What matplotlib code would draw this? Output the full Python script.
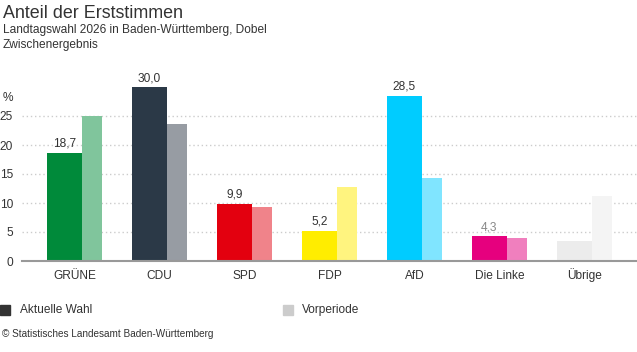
import matplotlib.pyplot as plt
from matplotlib.patches import Rectangle
import numpy as np

plt.rcParams['font.family'] = ['Liberation Sans', 'DejaVu Sans']

parties = ["GRÜNE", "CDU", "SPD", "FDP", "AfD", "Die Linke", "Übrige"]
current = [18.7, 30.0, 9.9, 5.2, 28.5, 4.3, 3.4]
previous = [25.0, 23.6, 9.3, 12.7, 14.3, 3.9, 11.2]
value_labels = ["18,7", "30,0", "9,9", "5,2", "28,5", "4,3", ""]
colors_cur = ["#008a3a", "#2b3947", "#e3000f", "#ffed00", "#00ccff", "#e6007e", "#ececec"]
colors_prev = ["#80c59c", "#979ca3", "#f0838a", "#fff47f", "#80e5ff", "#f07fbe", "#f4f4f4"]
label_colors = ["#333333"] * 5 + ["#888888", "#333333"]

W, H = 637, 352
fs = 8.6
fig = plt.figure(figsize=(W / 100, H / 100), dpi=100)
ax = fig.add_axes([22 / W, (H - 261) / H, 1 - 22 / W, 174 / H])

x = np.arange(len(parties))
ax.bar(x - 0.118, current, width=0.405, color=colors_cur, zorder=3)
ax.bar(x + 0.202, previous, width=0.235, color=colors_prev, zorder=2)

for xi, v, lab, c in zip(x, current, value_labels, label_colors):
    if lab:
        ax.text(xi - 0.118, v + 0.5, lab, ha='center', va='bottom', fontsize=fs,
                color=c, clip_on=False)

ax.set_xlim(-0.618, 6.618)
ax.set_ylim(0, 30)
ax.set_yticks([0, 5, 10, 15, 20, 25])
ax.set_xticks(x)
ax.set_xticklabels(parties, va='baseline')
ax.tick_params(axis='both', length=0, labelsize=fs, colors='#333333')
ax.tick_params(axis='y', pad=6.5)
ax.tick_params(axis='x', pad=13)
for s in ['top', 'right', 'left']:
    ax.spines[s].set_visible(False)
ax.spines['bottom'].set_color('#999999')
ax.spines['bottom'].set_linewidth(1.5)
ax.spines['bottom'].set_zorder(4)
ax.grid(axis='y', linestyle=(0, (1, 2)), color='#cccccc', linewidth=1, zorder=0)
ax.set_axisbelow(True)

fig.text(3 / W, 1 - 98 / H, "%", fontsize=fs, color='#333333', va='center', ha='left')
fig.text(3 / W, 1 - 13 / H, "Anteil der Erststimmen", fontsize=12.9, color='#333333', va='center')
fig.text(3 / W, 1 - 30 / H, "Landtagswahl 2026 in Baden-Württemberg, Dobel", fontsize=fs,
         color='#333333', va='center')
fig.text(3 / W, 1 - 45 / H, "Zwischenergebnis", fontsize=fs, color='#333333', va='center')

fig.add_artist(Rectangle((0, 1 - 315 / H), 10 / W, 10 / H, transform=fig.transFigure,
                         color='#333333'))
fig.text(20 / W, 1 - 310 / H, "Aktuelle Wahl", fontsize=fs, color='#333333', va='center')
fig.add_artist(Rectangle((283 / W, 1 - 315 / H), 10 / W, 10 / H, transform=fig.transFigure,
                         color='#cccccc'))
fig.text(302 / W, 1 - 310 / H, "Vorperiode", fontsize=fs, color='#333333', va='center')
fig.text(2 / W, 1 - 334 / H, "© Statistisches Landesamt Baden-Württemberg", fontsize=7.2,
         color='#333333', va='center')

fig.savefig("out.png", dpi=100)
